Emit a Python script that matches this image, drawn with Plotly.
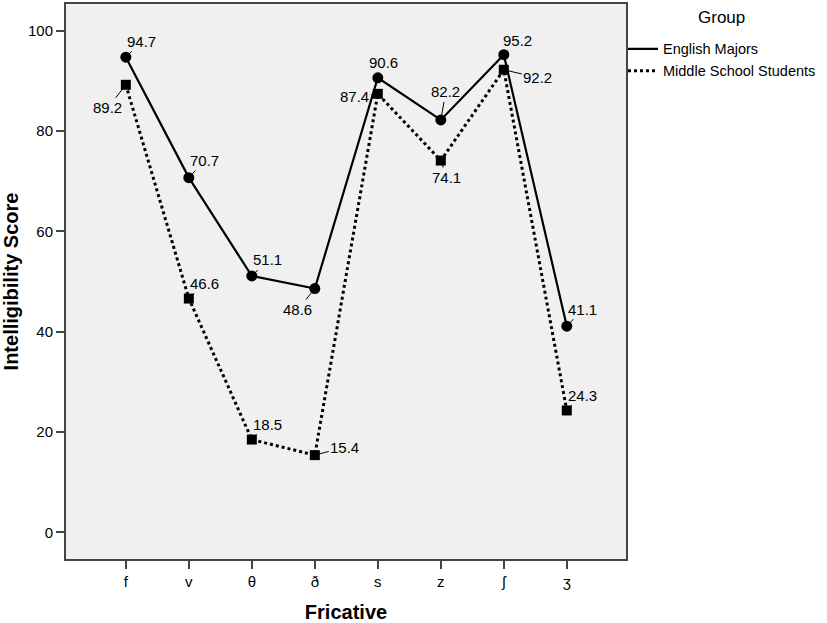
import plotly.graph_objects as go

fricatives = ["f", "v", "θ", "ð", "s", "z", "ʃ", "ʒ"]
english_majors = [94.7, 70.7, 51.1, 48.6, 90.6, 82.2, 95.2, 41.1]
middle_school = [89.2, 46.6, 18.5, 15.4, 87.4, 74.1, 92.2, 24.3]
y_ticks = [0, 20, 40, 60, 80, 100]

# label offsets (pixels) for each data label: (ax, ay)
em_offsets = [(16, -16), (16, -17), (16, -16), (-17, 21), (6, -15), (5, -28), (14, -14), (16, -17)]
ms_offsets = [(-18, 23), (16, -15), (16, -15), (30, -8), (-23, 3), (6, 17), (34, 8), (16, -15)]

x_idx = list(range(len(fricatives)))
FONT = "Liberation Sans, Arial, sans-serif"

fig = go.Figure()
fig.add_trace(go.Scatter(x=x_idx, y=english_majors, mode="lines", name="English Majors",
                         line=dict(color="black", width=2.2)))
fig.add_trace(go.Scatter(x=x_idx, y=middle_school, mode="lines", name="Middle School Students",
                         line=dict(color="black", width=3, dash="dot")))
fig.add_trace(go.Scatter(x=x_idx, y=english_majors, mode="markers", showlegend=False,
                         marker=dict(symbol="circle", size=11, color="black")))
fig.add_trace(go.Scatter(x=x_idx, y=middle_school, mode="markers", showlegend=False,
                         marker=dict(symbol="square", size=10, color="black")))

for xs, ys, offs in [(x_idx, english_majors, em_offsets), (x_idx, middle_school, ms_offsets)]:
    for xi, yi, (ax, ay) in zip(xs, ys, offs):
        fig.add_annotation(x=xi, y=yi, text=f"{yi:.1f}", showarrow=True, arrowhead=0,
                           arrowwidth=1, arrowcolor="black", ax=ax, ay=ay, standoff=4,
                           font=dict(family=FONT, size=15, color="black"))

fig.add_annotation(x=1.17, y=0.976, xref="paper", yref="paper", text="Group", showarrow=False,
                   xanchor="center", yanchor="middle", font=dict(family=FONT, size=17, color="black"))

fig.update_layout(
    width=827, height=623,
    margin=dict(l=66, r=201, t=2, b=60),
    paper_bgcolor="white", plot_bgcolor="#f0f0f0",
    font=dict(family=FONT, size=15, color="black"),
    legend=dict(x=0.9946, y=0.948, xanchor="left", yanchor="top", bgcolor="rgba(0,0,0,0)",
                font=dict(family=FONT, size=14.5, color="black"), itemwidth=30,
                tracegroupgap=0),
    xaxis=dict(range=[-0.95, 7.94], tickmode="array", tickvals=x_idx, ticktext=fricatives,
               showgrid=False, zeroline=False, ticks="outside", ticklen=8, tickwidth=2,
               tickcolor="#444", showline=True, linecolor="#444", linewidth=2, mirror=True,
               tickfont=dict(family=FONT, size=15),
               title=dict(text="<b>Fricative</b>", font=dict(family=FONT, size=20), standoff=17)),
    yaxis=dict(range=[-5.3, 105.3], tickmode="array", tickvals=y_ticks,
               showgrid=False, zeroline=False, ticks="outside", ticklen=8, tickwidth=2,
               tickcolor="#444", showline=True, linecolor="#444", linewidth=2, mirror=True,
               tickfont=dict(family=FONT, size=15),
               title=dict(text="<b>Intelligibility Score</b>", font=dict(family=FONT, size=20), standoff=12)),
)

fig.write_html("out.html", config={"displayModeBar": False},
               post_script="document.body.style.margin='0px';")
